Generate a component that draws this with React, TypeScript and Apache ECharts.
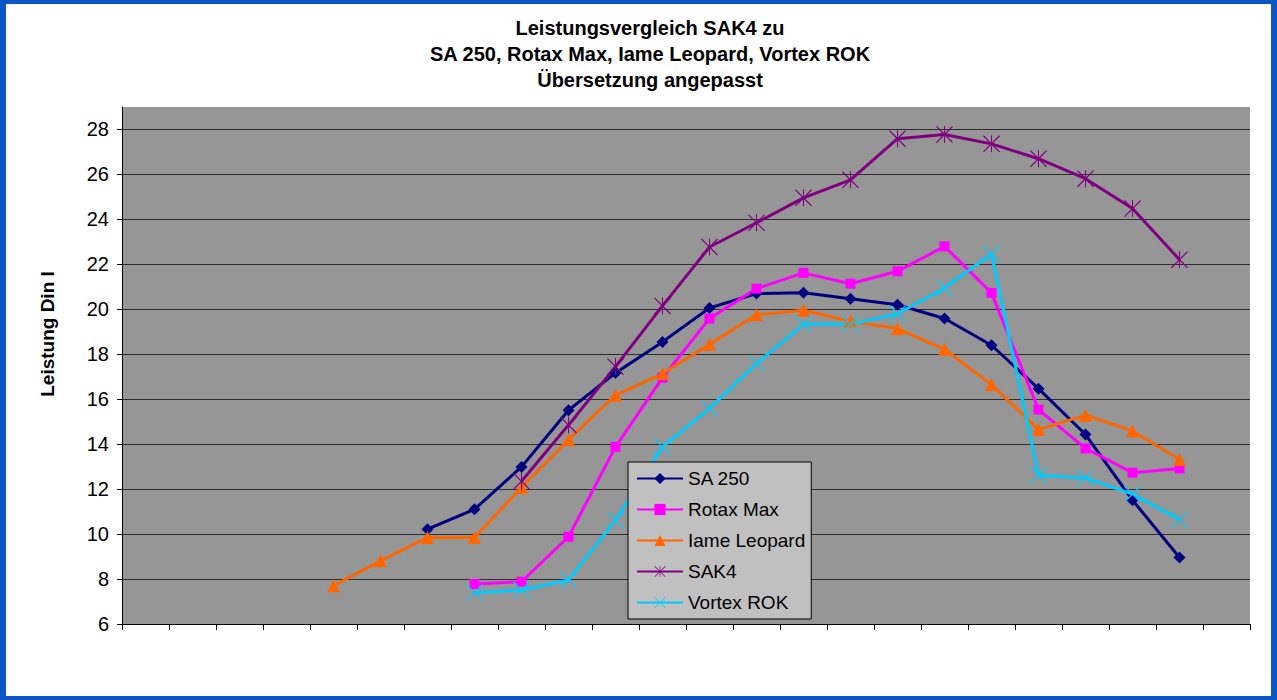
import React, { useEffect, useRef } from 'react';
import * as echarts from 'echarts';

const categories = ['1', '2', '3', '4', '5', '6', '7', '8', '9', '10', '11', '12', '13', '14', '15', '16', '17', '18', '19', '20', '21', '22', '23', '24'];
const yTickValues = [6, 8, 10, 12, 14, 16, 18, 20, 22, 24, 26, 28];

const seriesNames = ['SA 250', 'Rotax Max', 'Iame Leopard', 'SAK4', 'Vortex ROK'];

const sa250 = [null, null, null, null, null, null, 10.22, 11.1, 12.99, 15.51, 17.17, 18.55, 20.06, 20.7, 20.74, 20.47, 20.2, 19.59, 18.4, 16.47, 14.43, 11.51, 8.96, null];
const rotaxMax = [null, null, null, null, null, null, null, 7.78, 7.88, 9.88, 13.88, 16.96, 19.59, 20.92, 21.62, 21.14, 21.69, 22.8, 20.73, 15.54, 13.81, 12.73, 12.92, null];
const iameLeopard = [null, null, null, null, 7.7, 8.81, 9.85, 9.85, 12.07, 14.2, 16.18, 17.14, 18.44, 19.76, 19.96, 19.47, 19.14, 18.22, 16.65, 14.65, 15.29, 14.59, 13.32, null];
const sak4 = [null, null, null, null, null, null, null, null, 12.35, 14.85, 17.45, 20.15, 22.77, 23.85, 24.96, 25.76, 27.59, 27.78, 27.36, 26.7, 25.81, 24.48, 22.21, null];
const vortexRok = [null, null, null, null, null, null, null, 7.39, 7.51, 7.96, 10.62, 13.88, 15.59, 17.59, 19.33, 19.33, 19.8, 20.95, 22.47, 12.62, 12.5, 11.78, 10.65, null];

const titleLines = ['Leistungsvergleich SAK4 zu', 'SA 250, Rotax Max, Iame Leopard, Vortex ROK', 'Übersetzung angepasst'];
const yAxisName = 'Leistung Din l';

const X_PATH = 'path://M0,1 L1,0 L10,9 L19,0 L20,1 L11,10 L20,19 L19,20 L10,11 L1,20 L0,19 L9,10 Z';
const STAR_PATH = 'path://M0,1 L1,0 L10,9 L19,0 L20,1 L11,10 L20,19 L19,20 L10,11 L1,20 L0,19 L9,10 Z M9.4,0 L10.6,0 L10.6,20 L9.4,20 Z';

const FONT = '"Liberation Sans", Arial, Helvetica, sans-serif';

export default function App() {
  const ref = useRef<HTMLDivElement>(null);

  useEffect(() => {
    if (!ref.current) return;
    const chart = echarts.init(ref.current, null, { renderer: 'svg' });

    const mk = (name: string, data: (number | null)[], color: string, symbol: string, size: number) => ({
      name,
      type: 'line',
      data,
      symbol,
      symbolSize: size,
      symbolKeepAspect: true,
      showAllSymbol: true,
      lineStyle: { color, width: 3 },
      itemStyle: { color, borderColor: color, borderWidth: 0 },
      emphasis: { disabled: true },
    });

    const splitColors = yTickValues.map(() => '#2e2e2e').concat(['rgba(0,0,0,0)']);

    chart.setOption({
      animation: false,
      backgroundColor: '#ffffff',
      textStyle: { fontFamily: FONT },
      grid: {
        left: 122,
        right: 27,
        top: 107,
        bottom: 76,
        show: true,
        backgroundColor: '#969696',
        borderWidth: 0,
      },
      legend: {
        orient: 'vertical',
        left: 628,
        top: 462,
        data: seriesNames,
        backgroundColor: '#c0c0c0',
        borderColor: '#000000',
        borderWidth: 1,
        borderRadius: 0,
        padding: [7, 6, 7, 8],
        itemWidth: 46,
        itemHeight: 14,
        itemGap: 12,
        textStyle: { fontSize: 19, color: '#000000', fontFamily: FONT },
      },
      xAxis: {
        type: 'category',
        data: categories,
        boundaryGap: true,
        axisLine: { show: true, lineStyle: { color: '#000000', width: 1 } },
        axisTick: { show: true, length: 6, lineStyle: { color: '#000000' } },
        axisLabel: { show: false },
        splitLine: { show: false },
      },
      yAxis: {
        type: 'value',
        min: 6,
        max: 29,
        interval: 2,
        axisLine: { show: true, lineStyle: { color: '#000000', width: 1 } },
        axisTick: { show: true, length: 5, lineStyle: { color: '#000000' } },
        axisLabel: {
          show: true,
          margin: 13,
          fontSize: 20,
          color: '#000000',
          fontFamily: FONT,
          showMaxLabel: false,
        },
        splitLine: { show: true, lineStyle: { color: splitColors, width: 1 } },
      },
      graphic: [
        { type: 'rect', shape: { x: 0, y: 0, width: 6, height: 700 }, style: { fill: '#0b55c5' }, silent: true },
        { type: 'rect', shape: { x: 1271, y: 0, width: 6, height: 700 }, style: { fill: '#0b55c5' }, silent: true },
        { type: 'rect', shape: { x: 0, y: 0, width: 1277, height: 4 }, style: { fill: '#0b55c5' }, silent: true },
        { type: 'rect', shape: { x: 0, y: 696, width: 1277, height: 4 }, style: { fill: '#0b55c5' }, silent: true },
        {
          type: 'text',
          x: 650,
          y: 15,
          silent: true,
          style: {
            text: titleLines.join('\n'),
            fontSize: 20,
            fontWeight: 'bold',
            fontFamily: FONT,
            fill: '#000000',
            align: 'center',
            verticalAlign: 'top',
            lineHeight: 26,
          },
        },
        {
          type: 'text',
          x: 47,
          y: 334,
          rotation: Math.PI / 2,
          silent: true,
          style: {
            text: yAxisName,
            fontSize: 19,
            fontWeight: 'bold',
            fontFamily: FONT,
            fill: '#000000',
            align: 'center',
            verticalAlign: 'middle',
          },
        },
      ],
      series: [
        mk(seriesNames[0], sa250, '#000080', 'diamond', 12),
        mk(seriesNames[1], rotaxMax, '#ff00ff', 'rect', 10),
        mk(seriesNames[2], iameLeopard, '#ff6600', 'triangle', 13),
        mk(seriesNames[3], sak4, '#800080', STAR_PATH, 17),
        mk(seriesNames[4], vortexRok, '#00ccff', X_PATH, 17),
      ],
    });

    return () => chart.dispose();
  }, []);

  return (
    <div
      ref={ref}
      style={{ position: 'absolute', left: 0, top: 0, width: 1277, height: 700, background: '#ffffff' }}
    />
  );
}
